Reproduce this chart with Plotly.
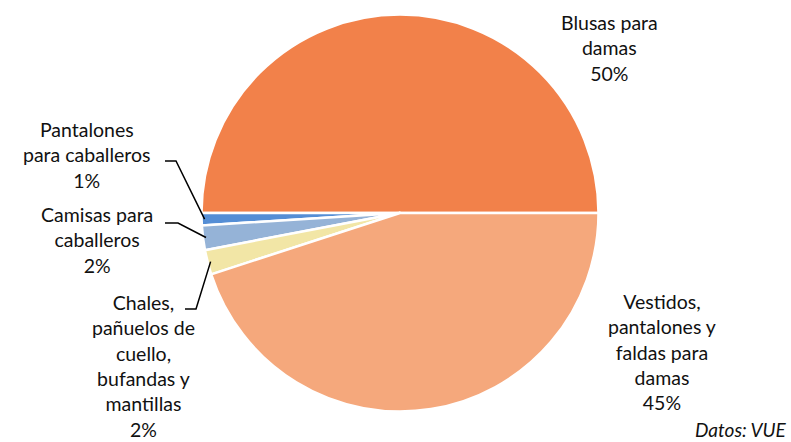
import math
import plotly.graph_objects as go

# ---- data ----
categories = ["Blusas para damas", "Pantalones para caballeros", "Camisas para caballeros",
              "Chales, pañuelos de cuello, bufandas y mantillas",
              "Vestidos, pantalones y faldas para damas"]
values = [50, 1, 2, 2, 45]
label_texts = ["Blusas para<br>damas", "Pantalones<br>para caballeros", "Camisas para<br>caballeros",
               "Chales,<br>pañuelos de<br>cuello,<br>bufandas y<br>mantillas",
               "Vestidos,<br>pantalones y<br>faldas para<br>damas"]
colors = ["#F2814A", "#558ED5", "#95B3D7", "#F2E6A6", "#F5A87C"]
source_text = "Datos: VUE"

W, H = 791, 442
CX, CY, R = 400, 213, 198.5


def px(x):
    return x / W


def py(y):
    return 1 - y / H


fig = go.Figure()
fig.add_trace(go.Pie(
    labels=categories, values=values, sort=False, direction="counterclockwise",
    rotation=-90, textinfo="none", hoverinfo="label+percent",
    marker=dict(colors=colors, line=dict(color="white", width=2.5)),
    domain=dict(x=[px(CX - R), px(CX + R)], y=[py(CY + R), py(CY - R)]),
    showlegend=False,
))

total = sum(values)
pcts = [round(v * 100 / total) for v in values]

# label positions (pixel centres) and leader-line elbows
label_pos = [(609, 48), (87, 155), (97, 240), (143, 366), (662, 352)]
elbows = [None, [(165, 161), (176, 161)], [(165, 223), (178, 223)], [(185, 309), (196, 309)], None]

FONT = "Lato, 'Open Sans', sans-serif"
annotations = []
shapes = []
cum = 0
for i, (v, txt) in enumerate(zip(values, label_texts)):
    start = cum
    cum += v
    mid = (start + v / 2) / total * 2 * math.pi  # counterclockwise from 3 o'clock
    x, y = label_pos[i]
    annotations.append(dict(
        x=px(x), y=py(y), xref="paper", yref="paper", showarrow=False,
        text=f"{txt}<br>{pcts[i]}%", align="center", xanchor="center", yanchor="middle",
        font=dict(family=FONT, size=19.5, color="#111111"),
    ))
    if elbows[i]:
        ex = CX + R * 0.985 * math.cos(mid)
        ey = CY - R * 0.985 * math.sin(mid)
        pts = elbows[i] + [(ex, ey)]
        path = "M " + " L ".join(f"{px(a):.5f},{py(b):.5f}" for a, b in pts)
        shapes.append(dict(type="path", path=path, xref="paper", yref="paper",
                           line=dict(color="black", width=1.5)))

annotations.append(dict(
    x=px(788), y=py(429), xref="paper", yref="paper", showarrow=False,
    text=f"<i>{source_text}</i>", xanchor="right", yanchor="middle",
    font=dict(family=FONT, size=19, color="#111111"),
))

fig.update_layout(
    width=W, height=H, margin=dict(l=0, r=0, t=0, b=0),
    paper_bgcolor="white", plot_bgcolor="white",
    annotations=annotations, shapes=shapes,
)

fig.write_html("out.html", config={"displayModeBar": False},
               post_script="document.body.style.margin='0';document.body.style.overflow='hidden';")
